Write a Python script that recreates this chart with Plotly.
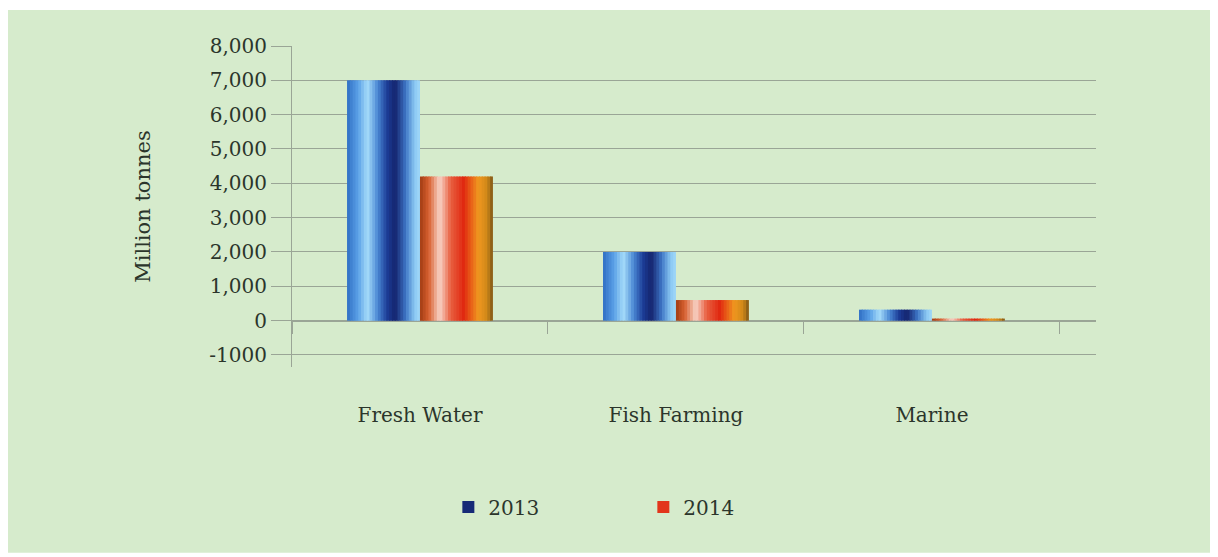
import plotly.graph_objects as go

categories = ["Fresh Water", "Fish Farming", "Marine"]
years = ["2013", "2014"]
values_2013 = [7000, 2000, 320]
values_2014 = [4200, 600, 60]
y_tickvals = [-1000, 0, 1000, 2000, 3000, 4000, 5000, 6000, 7000, 8000]
y_ticktext = ["-1000", "0", "1,000", "2,000", "3,000", "4,000", "5,000", "6,000", "7,000", "8,000"]

# gradient stops across each bar (left -> right), Excel style "metal" fill
blue_stops = [(0.0, "#2f6fc4"), (0.15, "#5aa0e6"), (0.28, "#a6dcfa"), (0.42, "#4a88d4"),
              (0.55, "#1c3c96"), (0.66, "#14246e"), (0.8, "#3c74c4"), (0.93, "#8ccaf4"),
              (1.0, "#a0d8f8")]
orange_stops = [(0.0, "#a03c14"), (0.12, "#d86030"), (0.27, "#f8d4c8"), (0.42, "#e86040"),
                (0.6, "#e02810"), (0.8, "#f09820"), (0.92, "#d08818"), (1.0, "#7a5418")]


def hex2rgb(h):
    h = h.lstrip("#")
    return [int(h[i:i + 2], 16) for i in (0, 2, 4)]


def grad(stops, t):
    for (t0, c0), (t1, c1) in zip(stops[:-1], stops[1:]):
        if t0 <= t <= t1:
            f = (t - t0) / (t1 - t0) if t1 > t0 else 0
            a, b = hex2rgb(c0), hex2rgb(c1)
            return "rgb(%d,%d,%d)" % tuple(round(a[i] + (b[i] - a[i]) * f) for i in range(3))
    return stops[-1][1]


BAR_W = 0.285
N = 26
step = BAR_W / N
grid = "#9aa596"
font = "DejaVu Serif"
txt = "#2b352b"

fig = go.Figure()
for name, vals, stops, start, legend_i in [
    ("2013", values_2013, blue_stops, -BAR_W, 16),
    ("2014", values_2014, orange_stops, 0.0, 14),
]:
    for i in range(N):
        t = (i + 0.5) / N
        fig.add_trace(go.Bar(
            x=categories, y=vals,
            width=step * (1.4 if i < N - 1 else 1.0),
            offset=start + i * step,
            marker=dict(color=grad(stops, t), line=dict(width=0)),
            name=name,
            legendgroup=name,
            showlegend=(i == legend_i),
            hoverinfo="x+y+name",
        ))

# page body has an 8px margin, so the figure is 8px smaller than the window
fig.update_layout(
    width=1210, height=549,
    barmode="overlay",
    paper_bgcolor="white",
    plot_bgcolor="rgba(0,0,0,0)",
    margin=dict(l=284, r=122, t=38, b=190),
    font=dict(family=font, color=txt, size=19),
    showlegend=True,
    legend=dict(
        orientation="h", x=0.437, xanchor="center", y=-0.436, yanchor="middle",
        font=dict(size=20, family=font, color=txt),
        entrywidth=150, entrywidthmode="pixels",
        bgcolor="rgba(0,0,0,0)",
    ),
    shapes=[dict(
        type="rect", xref="paper", yref="paper", layer="below",
        x0=-0.36, x1=1.1443, y0=-0.579, y1=1.112,
        fillcolor="#d6ebcc", line=dict(width=0),
    )],
)

fig.update_yaxes(
    range=[-1350, 8000],
    tickvals=y_tickvals, ticktext=y_ticktext,
    showgrid=True, gridcolor=grid, gridwidth=1,
    showline=True, linecolor=grid, linewidth=1,
    ticks="outside", ticklen=20, tickcolor=grid,
    zeroline=False,
    tickfont=dict(size=20, family=font, color=txt),
    title=dict(text="Million tonnes", font=dict(size=21, family=font, color=txt), standoff=52),
)

fig.update_xaxes(
    type="category",
    range=[-0.5, 2.641],
    anchor="free", position=1350 / 9350,
    showline=True, linecolor=grid, linewidth=1,
    ticks="outside", ticklen=12, tickcolor=grid, tickson="boundaries",
    showgrid=False,
    ticklabelstandoff=76,
    tickfont=dict(size=20, family=font, color=txt),
)

fig.write_html("out.html")
